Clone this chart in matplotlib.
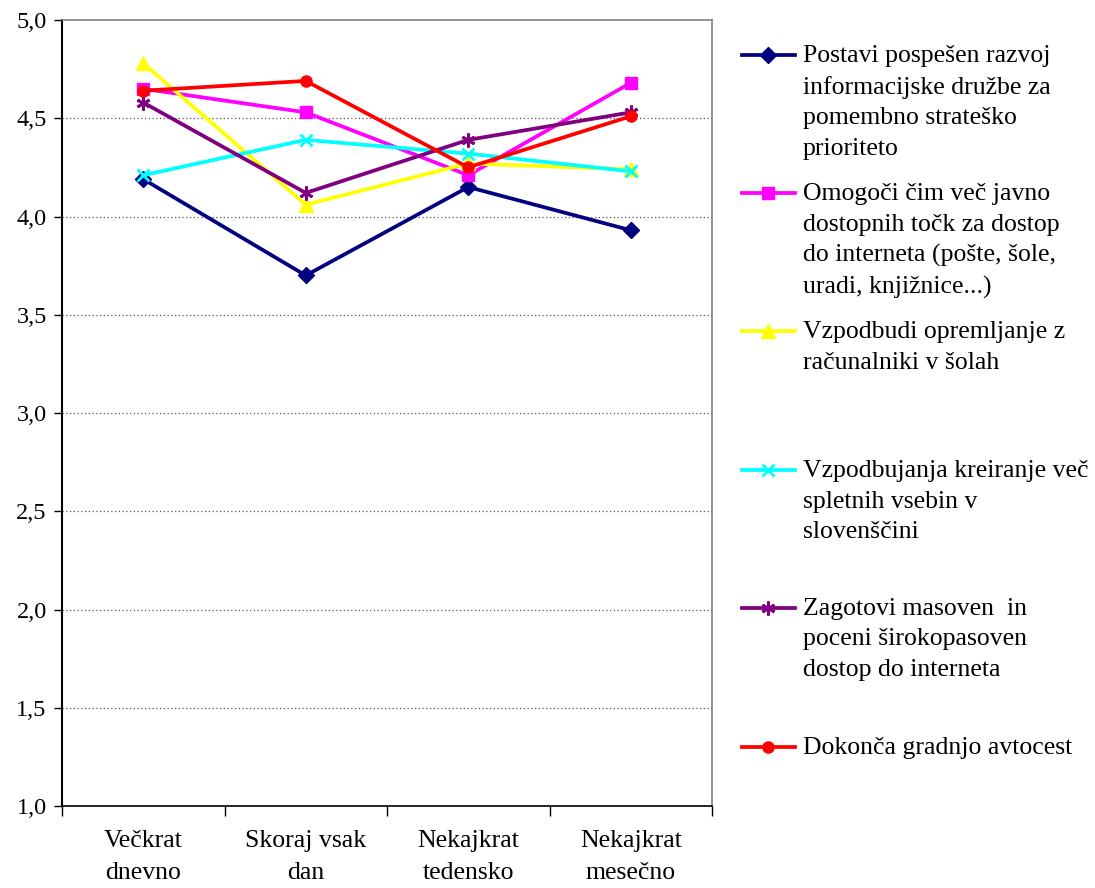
import numpy as np
import matplotlib.pyplot as plt
from matplotlib.lines import Line2D
from matplotlib.ticker import FuncFormatter, FixedLocator

plt.rcParams['font.family'] = ['Liberation Serif', 'DejaVu Serif']

categories = ["Večkrat\ndnevno", "Skoraj vsak\ndan", "Nekajkrat\ntedensko", "Nekajkrat\nmesečno"]

labels = [
    "Postavi pospešen razvoj\ninformacijske družbe za\npomembno strateško\nprioriteto",
    "Omogoči čim več javno\ndostopnih točk za dostop\ndo interneta (pošte, šole,\nuradi, knjižnice...)",
    "Vzpodbudi opremljanje z\nračunalniki v šolah",
    "Vzpodbujanja kreiranje več\nspletnih vsebin v\nslovenščini",
    "Zagotovi masoven  in\npoceni širokopasoven\ndostop do interneta",
    "Dokonča gradnjo avtocest",
]

razvoj = [4.19, 3.70, 4.15, 3.93]
tocke = [4.65, 4.53, 4.21, 4.68]
racunalniki = [4.78, 4.06, 4.27, 4.24]
vsebine = [4.21, 4.39, 4.32, 4.23]
sirokopasoven = [4.58, 4.12, 4.39, 4.53]
avtoceste = [4.64, 4.69, 4.25, 4.51]

series = [razvoj, tocke, racunalniki, vsebine, sirokopasoven, avtoceste]
colors = ['#000080', '#FF00FF', '#FFFF00', '#00FFFF', '#800080', '#FF0000']
markers = ['D', 's', '^', 'x', (6, 2, 0), 'o']
msizes = [8, 8, 10, 9, 10, 8]

fig = plt.figure(figsize=(10.95, 8.88), dpi=100)
ax = fig.add_axes([62 / 1095, 1 - 806 / 888, 650 / 1095, 786 / 888])

x = np.arange(len(categories))
for vals, c, m, ms in zip(series, colors, markers, msizes):
    ax.plot(x, vals, color=c, lw=2.7, marker=m, markersize=ms,
            markeredgewidth=2 if m in ('x', (6, 2, 0)) else 1, markeredgecolor=c,
            markerfacecolor=c, zorder=3)

ax.set_xlim(-0.5, 3.5)
ax.set_ylim(1.0, 5.0)
ax.set_yticks(np.arange(1.0, 5.01, 0.5))
ax.yaxis.set_major_formatter(FuncFormatter(lambda v, p: f"{v:.1f}".replace('.', ',')))
ax.set_xticks(x)
ax.set_xticklabels(categories, fontsize=18.5, linespacing=1.6)
ax.xaxis.set_minor_locator(FixedLocator([-0.5, 0.5, 1.5, 2.5, 3.5]))
ax.tick_params(axis='x', which='major', length=0, pad=17)
ax.tick_params(axis='x', which='minor', length=7, width=1, direction='out')
ax.tick_params(axis='y', length=6, width=1, direction='out', labelsize=17.5, pad=5)

for v in np.arange(1.5, 4.51, 0.5):
    ax.axhline(v, color='#555555', lw=0.9, ls=(0, (1, 2)), zorder=1)

for s in ['top', 'right']:
    ax.spines[s].set_color('#808080')
    ax.spines[s].set_linewidth(1.2)
ax.spines['left'].set_color('black')
ax.spines['left'].set_linewidth(1.5)
ax.spines['bottom'].set_color('black')
ax.spines['bottom'].set_linewidth(1.2)

# legend, drawn by hand in figure pixels so entries sit at Excel's even spacing
W, H = 1095, 888
entry_y = [55, 193, 331, 470, 608, 747]
for lab, c, m, ms, yy in zip(labels, colors, markers, msizes, entry_y):
    fy = 1 - yy / H
    fig.add_artist(Line2D([742 / W, 795 / W], [fy, fy], color=c, lw=2.7,
                          transform=fig.transFigure))
    fig.add_artist(Line2D([768 / W], [fy], color=c, marker=m, markersize=ms,
                          markeredgecolor=c, markerfacecolor=c,
                          markeredgewidth=2 if m in ('x', (6, 2, 0)) else 1,
                          transform=fig.transFigure))
    fig.text(803 / W, fy + 10 / H, lab, fontsize=18.5, va='top', ha='left',
             linespacing=1.5)

fig.savefig('out.png', dpi=100)
